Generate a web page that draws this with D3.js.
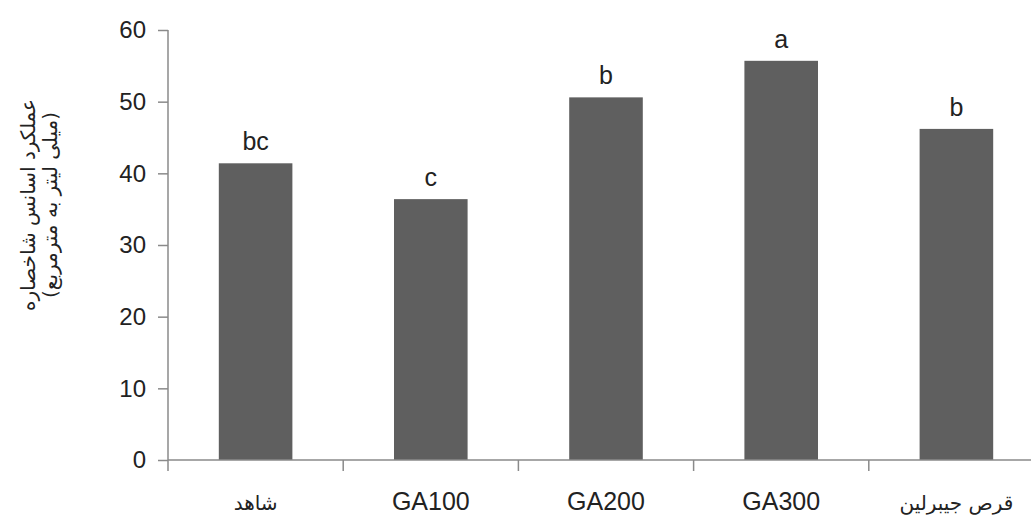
<!DOCTYPE html>
<html>
<head>
<meta charset="utf-8">
<script src="https://cdn.jsdelivr.net/npm/d3@7"></script>
<style>
  html, body { margin: 0; padding: 0; background: #fff; }
  svg { display: block; }
</style>
</head>
<body>
<svg id="chart" width="1031" height="518"></svg>
<script>
const categories = ["شاهد", "GA100", "GA200", "GA300", "قرص جیبرلین"];
const values = [41.4, 36.4, 50.6, 55.7, 46.2];
const letters = ["bc", "c", "b", "a", "b"];
const yTicks = [0, 10, 20, 30, 40, 50, 60];
const yTitle = ["عملکرد اسانس شاخصاره", "(میلی لیتر به مترمربع)"];

(function () {
const svg = d3.select("#chart");
const mLeft = 168, mRight = 1044, mTop = 30, mBottom = 460;
const axisColor = "#8a8a8a";
const textColor = "#222";
const latinFont = "'Liberation Sans', Arial, sans-serif";
const persianFont = "'DejaVu Sans', sans-serif";

const x = d3.scaleBand().domain(categories).range([mLeft, mRight])
  .paddingInner(0.58).paddingOuter(0.29);
const y = d3.scaleLinear().domain([0, 60]).range([mBottom, mTop]);
const step = x.step();

// Bars
svg.append("g").selectAll("rect").data(values).join("rect")
  .attr("x", (d, i) => x(categories[i]))
  .attr("y", d => y(d))
  .attr("width", x.bandwidth())
  .attr("height", d => y(0) - y(d))
  .attr("fill", "#5f5f5f");

// Y axis
const yAxis = svg.append("g").attr("transform", `translate(${mLeft},0)`)
  .call(d3.axisLeft(y).tickValues(yTicks).tickSize(10).tickPadding(12).tickFormat(d3.format("d")));
yAxis.select(".domain").remove();
yAxis.selectAll(".tick line").attr("stroke", axisColor).attr("stroke-width", 1.5);
yAxis.selectAll(".tick text").attr("font-family", latinFont).attr("font-size", 24)
  .attr("fill", textColor);
svg.append("line").attr("x1", mLeft).attr("x2", mLeft).attr("y1", y(60)).attr("y2", y(0) + 11)
  .attr("stroke", axisColor).attr("stroke-width", 1.5);

// X axis line and boundary ticks
svg.append("line").attr("x1", mLeft).attr("x2", 1031).attr("y1", y(0)).attr("y2", y(0))
  .attr("stroke", axisColor).attr("stroke-width", 1.5);
svg.append("g").selectAll("line").data(categories.slice(1)).join("line")
  .attr("x1", d => x(d) - step * x.paddingInner() / 2)
  .attr("x2", d => x(d) - step * x.paddingInner() / 2)
  .attr("y1", y(0)).attr("y2", y(0) + 11)
  .attr("stroke", axisColor).attr("stroke-width", 1.5);

// X labels
svg.append("g").selectAll("text").data(categories).join("text")
  .attr("x", d => x(d) + x.bandwidth() / 2)
  .attr("y", 510)
  .attr("text-anchor", "middle")
  .attr("font-family", d => /^[A-Za-z]/.test(d) ? latinFont : persianFont)
  .attr("font-size", d => /^[A-Za-z]/.test(d) ? 25 : 20)
  .attr("fill", textColor)
  .text(d => d);

// Significance letters
svg.append("g").selectAll("text").data(values).join("text")
  .attr("x", (d, i) => x(categories[i]) + x.bandwidth() / 2)
  .attr("y", d => y(d) - 13)
  .attr("text-anchor", "middle")
  .attr("font-family", latinFont)
  .attr("font-size", 25)
  .attr("fill", textColor)
  .text((d, i) => letters[i]);

// Y title
const t = svg.append("text")
  .attr("transform", `translate(28,205) rotate(-90)`)
  .attr("text-anchor", "middle")
  .attr("font-family", persianFont)
  .attr("font-size", 20)
  .attr("fill", textColor);
t.selectAll("tspan").data(yTitle).join("tspan")
  .attr("x", 0)
  .attr("dy", (d, i) => i === 0 ? "0.35em" : "1.1em")
  .text(d => d);
})();
</script>
</body>
</html>
